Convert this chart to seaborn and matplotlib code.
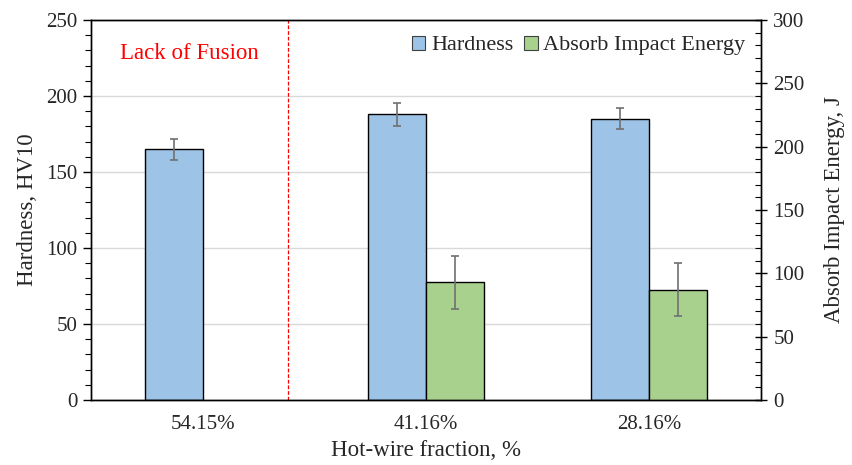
import numpy as np
import pandas as pd
import matplotlib
matplotlib.use("Agg")
import matplotlib.pyplot as plt
import seaborn as sns
from matplotlib.ticker import MultipleLocator
from matplotlib.patches import Patch

categories = ["54.15%", "41.16%", "28.16%"]
hardness = [165, 188, 185]
hardness_err = [7, 7.5, 7]
energy = [np.nan, 93, 87]
energy_err = [np.nan, 21, 21]
series = ["Hardness", "Absorb Impact Energy"]
colors = ["#9DC3E6", "#A9D18E"]

sns.set_theme(style="white")
plt.rcParams["font.family"] = ["Liberation Serif", "DejaVu Serif"]
plt.rcParams["font.size"] = 15

df = pd.DataFrame({
    "cat": categories * 2,
    "series": [series[0]] * 3 + [series[1]] * 3,
    "value": hardness + energy,
})
df_h = df.copy()
df_h.loc[df_h["series"] == series[1], "value"] = np.nan
df_e = df.copy()
df_e.loc[df_e["series"] == series[0], "value"] = np.nan

fig = plt.figure(figsize=(8.53, 4.65), dpi=100)
ax1 = fig.add_axes([0.1067, 0.140, 0.7853, 0.817])
ax2 = ax1.twinx()

pal = dict(zip(series, colors))
sns.barplot(data=df_h, x="cat", y="value", hue="series", hue_order=series,
            palette=pal, width=0.52, edgecolor="black", linewidth=1,
            errorbar=None, ax=ax1, legend=False, saturation=1)
sns.barplot(data=df_e, x="cat", y="value", hue="series", hue_order=series,
            palette=pal, width=0.52, edgecolor="black", linewidth=1,
            errorbar=None, ax=ax2, legend=False, saturation=1)

xpos = np.arange(len(categories))
bw = 0.26
ax1.errorbar(xpos - bw / 2, hardness, yerr=hardness_err, fmt="none",
             ecolor="#707070", elinewidth=1.2, capsize=3, capthick=1.2, zorder=5)
ax2.errorbar(xpos + bw / 2, energy, yerr=energy_err, fmt="none",
             ecolor="#707070", elinewidth=1.2, capsize=3, capthick=1.2, zorder=5)

ax1.set_xlim(-0.5, 2.5)
ax1.set_ylim(0, 250)
ax2.set_ylim(0, 300)
ax1.yaxis.set_major_locator(MultipleLocator(50))
ax1.yaxis.set_minor_locator(MultipleLocator(10))
ax2.yaxis.set_major_locator(MultipleLocator(50))
ax2.yaxis.set_minor_locator(MultipleLocator(10))
ax1.grid(axis="y", color="#d9d9d9", linewidth=1)
ax1.set_axisbelow(True)

ax1.tick_params(axis="y", which="major", direction="out", length=6, width=1, color="black", labelsize=15, pad=4, left=True)
ax1.tick_params(axis="y", which="minor", direction="out", length=4, width=0.8, color="black", left=True)
ax2.tick_params(axis="y", which="major", direction="inout", length=8, width=1, color="black", labelsize=15, pad=5, right=True)
ax2.tick_params(axis="y", which="minor", direction="in", length=4, width=0.8, color="black", right=True)
ax1.tick_params(axis="x", length=0, labelsize=15, pad=11)

for ax in (ax1, ax2):
    for s in ax.spines.values():
        s.set_visible(True)
        s.set_color("black")
        s.set_linewidth(1)

ax1.set_xlabel("Hot-wire fraction, %", fontsize=16.5, labelpad=4)
ax1.set_ylabel("Hardness, HV10", fontsize=16.5, labelpad=6)
ax2.set_ylabel("Absorb Impact Energy, J", fontsize=16.5, labelpad=14)

ax1.axvline(0.38, color="red", linestyle=(0, (3, 1.5)), linewidth=0.9, zorder=1)
ax1.text(-0.06, 228, "Lack of Fusion", color="red", fontsize=16.5, ha="center", va="center")

handles = [Patch(facecolor=c, edgecolor="#404040", linewidth=0.8) for c in colors]
ax2.legend(handles, series, loc="upper right", ncol=2, frameon=False, fontsize=16,
           handlelength=0.6, handleheight=0.6, handletextpad=0.25, columnspacing=0.5,
           bbox_to_anchor=(1.0, 1.0), borderaxespad=0.3)

fig.savefig("out.png", dpi=100)
